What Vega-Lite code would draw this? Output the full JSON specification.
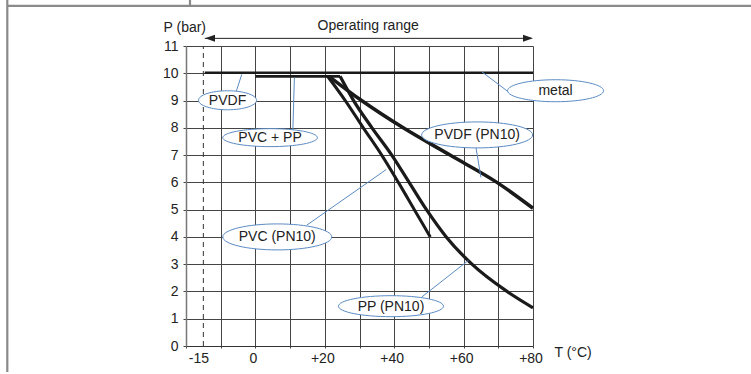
{
  "$schema": "https://vega.github.io/schema/vega-lite/v6.json",
  "width": 347,
  "height": 300,
  "autosize": {"type": "none"},
  "padding": {"left": 186, "top": 46, "right": 218, "bottom": 28},
  "background": "white",
  "config": {"view": {"stroke": null}, "font": "Liberation Sans"},
  "resolve": {"scale": {"shape": "independent", "size": "independent", "strokeWidth": "independent"}},
  "datasets": {
    "curves": [
      {"series": "metal", "T": -14.6, "P": 10.02},
      {"series": "metal", "T": 80, "P": 10.02},
      {"series": "PVC + PP", "T": 0, "P": 9.89},
      {"series": "PVC + PP", "T": 24.4, "P": 9.89},
      {"series": "PVC", "T": 20.8, "P": 9.89},
      {"series": "PVC", "T": 25.9, "P": 9},
      {"series": "PVC", "T": 31.1, "P": 8},
      {"series": "PVC", "T": 36.4, "P": 7},
      {"series": "PVC", "T": 41.2, "P": 6},
      {"series": "PVC", "T": 45.8, "P": 5},
      {"series": "PVC", "T": 50.4, "P": 4},
      {"series": "PP", "T": 24.4, "P": 9.89},
      {"series": "PP", "T": 28.3, "P": 9},
      {"series": "PP", "T": 33.6, "P": 8},
      {"series": "PP", "T": 39.3, "P": 7},
      {"series": "PP", "T": 44.3, "P": 6},
      {"series": "PP", "T": 49.3, "P": 5},
      {"series": "PP", "T": 55, "P": 4},
      {"series": "PP", "T": 62.4, "P": 3},
      {"series": "PP", "T": 72.5, "P": 2},
      {"series": "PP", "T": 80, "P": 1.4},
      {"series": "PVDF", "T": 21.2, "P": 9.89},
      {"series": "PVDF", "T": 30.6, "P": 9},
      {"series": "PVDF", "T": 42.6, "P": 8},
      {"series": "PVDF", "T": 56.1, "P": 7},
      {"series": "PVDF", "T": 69.6, "P": 6},
      {"series": "PVDF", "T": 80, "P": 5.05}
    ],
    "labels": [
      {"label": "PVDF", "T": -8.03, "P": 9.01},
      {"label": "PVC + PP", "T": 4.23, "P": 7.64},
      {"label": "PVC (PN10)", "T": 6.3, "P": 4.0},
      {"label": "PVDF (PN10)", "T": 63.9, "P": 7.74},
      {"label": "metal", "T": 86.5, "P": 9.36},
      {"label": "PP (PN10)", "T": 39.07, "P": 1.46}
    ],
    "segs": [
      {"kind": "frame", "T": -71.5, "T2": -71.5, "P": -0.95, "P2": 12.8},
      {"kind": "frame", "T": -71.5, "T2": 146, "P": 12.47, "P2": 12.47},
      {"kind": "frame", "T": -18.85, "T2": -18.85, "P": 12.47, "P2": 12.8},
      {"kind": "dash", "T": -15, "T2": -15, "P": 0, "P2": 11},
      {"kind": "arrow", "T": -14.6, "T2": 79.5, "P": 11.28, "P2": 11.28},
      {"kind": "leader", "T": -5.58, "T2": -3.93, "P": 9.31, "P2": 9.96},
      {"kind": "leader", "T": 10.78, "T2": 11.24, "P": 7.85, "P2": 9.84},
      {"kind": "leader", "T": 14.8, "T2": 37.7, "P": 4.43, "P2": 6.47},
      {"kind": "leader", "T": 63.56, "T2": 65.0, "P": 7.28, "P2": 6.18},
      {"kind": "leader", "T": 73.0, "T2": 65.3, "P": 9.31, "P2": 10.05},
      {"kind": "leader", "T": 47.98, "T2": 61.4, "P": 1.8, "P2": 3.14}
    ],
    "heads": [
      {"dir": "left", "T": -13.08, "P": 11.28},
      {"dir": "right", "T": 78.56, "P": 11.28}
    ]
  },
  "encoding": {
    "x": {
      "field": "T", "type": "quantitative", "title": "T (°C)",
      "scale": {"domain": [-20, 80], "nice": false, "zero": false},
      "axis": {
        "values": [-20, -15, -10, 0, 10, 20, 30, 40, 50, 60, 70, 80],
        "labelExpr": "datum.value === -15 ? '-15' : (datum.value === 0 ? '0' : ((datum.value > 0 && datum.value % 20 === 0) ? '+' + datum.value : ''))",
        "grid": true,
        "gridColor": "#444",
        "gridOpacity": {"condition": {"test": "datum.value === -15 || datum.value === -20", "value": 0}, "value": 1},
        "tickOpacity": {"condition": {"test": "datum.value === -15", "value": 0}, "value": 1},
        "labelOffset": {"condition": {"test": "datum.value === -15", "value": -5}, "value": -2.5},
        "tickColor": "#444", "tickSize": 2,
        "domainColor": "#333", "domainWidth": 1,
        "labelFont": "Liberation Sans", "labelFontSize": 14, "labelColor": "#222",
        "labelPadding": 3, "labelFlush": false, "labelOverlap": false,
        "titleFont": "Liberation Sans", "titleFontSize": 14, "titleFontWeight": "normal", "titleColor": "#222",
        "titleX": 368, "titleY": 10, "titleAlign": "left", "titleBaseline": "alphabetic", "titleAnchor": null
      }
    },
    "y": {
      "field": "P", "type": "quantitative", "title": "P (bar)",
      "scale": {"domain": [0, 11], "nice": false, "zero": false},
      "axis": {
        "values": [0, 1, 2, 3, 4, 5, 6, 7, 8, 9, 10, 11],
        "grid": true, "gridColor": "#444",
        "gridOpacity": {"condition": {"test": "datum.value === 0", "value": 0}, "value": 1},
        "tickColor": "#444", "tickSize": 3,
        "domainColor": "#777", "domainWidth": 1.5,
        "labelFont": "Liberation Sans", "labelFontSize": 14, "labelColor": "#222",
        "labelPadding": 5, "labelFlush": false, "labelOverlap": false,
        "titleFont": "Liberation Sans", "titleFontSize": 14, "titleFontWeight": "normal", "titleColor": "#222",
        "titleAngle": 0, "titleX": -23, "titleY": -15, "titleAlign": "left", "titleBaseline": "alphabetic", "titleAnchor": null
      }
    }
  },
  "layer": [
    {
      "data": {"name": "segs"},
      "transform": [{"filter": "datum.kind === 'frame'"}],
      "mark": {"type": "rule", "color": "#8a8a8a", "strokeWidth": 2.2},
      "encoding": {"x2": {"field": "T2"}, "y2": {"field": "P2"}}
    },
    {
      "data": {"name": "segs"},
      "transform": [{"filter": "datum.kind === 'dash'"}],
      "mark": {"type": "rule", "color": "#333", "strokeWidth": 1, "strokeDash": [5, 4]},
      "encoding": {"x2": {"field": "T2"}, "y2": {"field": "P2"}}
    },
    {
      "data": {"name": "segs"},
      "transform": [{"filter": "datum.kind === 'arrow'"}],
      "mark": {"type": "rule", "color": "#222", "strokeWidth": 1},
      "encoding": {"x2": {"field": "T2"}, "y2": {"field": "P2"}}
    },
    {
      "data": {"name": "heads"},
      "mark": {"type": "point", "filled": true, "color": "#222", "opacity": 1},
      "encoding": {
        "shape": {"field": "dir", "type": "nominal", "legend": null,
          "scale": {"domain": ["left", "right"], "range": ["M -1 0 L 1 -0.7 L 1 0.7 Z", "M 1 0 L -1 -0.7 L -1 0.7 Z"]}},
        "size": {"value": 100}
      }
    },
    {
      "data": {"values": [{"text": "Operating range", "T": 32.5, "P": 11.73}]},
      "mark": {"type": "text", "font": "Liberation Sans", "fontSize": 14, "color": "#222", "align": "center", "baseline": "middle"},
      "encoding": {"text": {"field": "text"}}
    },
    {
      "data": {"name": "curves"},
      "mark": {"type": "line", "color": "#1a1a1a", "interpolate": "monotone", "strokeCap": "butt"},
      "encoding": {
        "detail": {"field": "series"},
        "strokeWidth": {"field": "series", "type": "nominal", "legend": null,
          "scale": {"domain": ["metal", "PVC + PP", "PVC", "PP", "PVDF"], "range": [2.5, 3.5, 2, 2, 2]}}
      }
    },
    {
      "data": {"name": "segs"},
      "transform": [{"filter": "datum.kind === 'leader'"}],
      "mark": {"type": "rule", "color": "#5b8bc4", "strokeWidth": 1},
      "encoding": {"x2": {"field": "T2"}, "y2": {"field": "P2"}}
    },
    {
      "data": {"name": "labels"},
      "mark": {"type": "point", "filled": true, "color": "white", "fill": "white", "fillOpacity": 1, "stroke": "#5b8bc4", "strokeWidth": 1, "opacity": 1, "strokeOpacity": 1, "size": 4},
      "encoding": {
        "shape": {"field": "label", "type": "nominal", "legend": null,
          "scale": {"domain": ["PVDF", "PVC + PP", "PVC (PN10)", "PVDF (PN10)", "metal", "PP (PN10)"],
            "range": [
              "M -29 0 C -29 -5.25 -16.02 -9.5 0 -9.5 C 16.02 -9.5 29 -5.25 29 0 C 29 5.25 16.02 9.5 0 9.5 C -16.02 9.5 -29 5.25 -29 0 Z",
              "M -47.3 0 C -47.3 -4.97 -26.12 -9 0 -9 C 26.12 -9 47.3 -4.97 47.3 0 C 47.3 4.97 26.12 9 0 9 C -26.12 9 -47.3 4.97 -47.3 0 Z",
              "M -54.5 0 C -54.5 -7.18 -30.1 -13 0 -13 C 30.1 -13 54.5 -7.18 54.5 0 C 54.5 7.18 30.1 13 0 13 C -30.1 13 -54.5 7.18 -54.5 0 Z",
              "M -55.5 0 C -55.5 -7.18 -30.65 -13 0 -13 C 30.65 -13 55.5 -7.18 55.5 0 C 55.5 7.18 30.65 13 0 13 C -30.65 13 -55.5 7.18 -55.5 0 Z",
              "M -48 0 C -48 -6.08 -26.51 -11 0 -11 C 26.51 -11 48 -6.08 48 0 C 48 6.08 26.51 11 0 11 C -26.51 11 -48 6.08 -48 0 Z",
              "M -52.5 0 C -52.5 -5.8 -29 -10.5 0 -10.5 C 29 -10.5 52.5 -5.8 52.5 0 C 52.5 5.8 29 10.5 0 10.5 C -29 10.5 -52.5 5.8 -52.5 0 Z"
            ]}}
      }
    },
    {
      "data": {"name": "labels"},
      "mark": {"type": "text", "font": "Liberation Sans", "fontSize": 14, "color": "#222", "align": "center", "baseline": "middle", "dy": 0.5},
      "encoding": {"text": {"field": "label"}}
    }
  ]
}
